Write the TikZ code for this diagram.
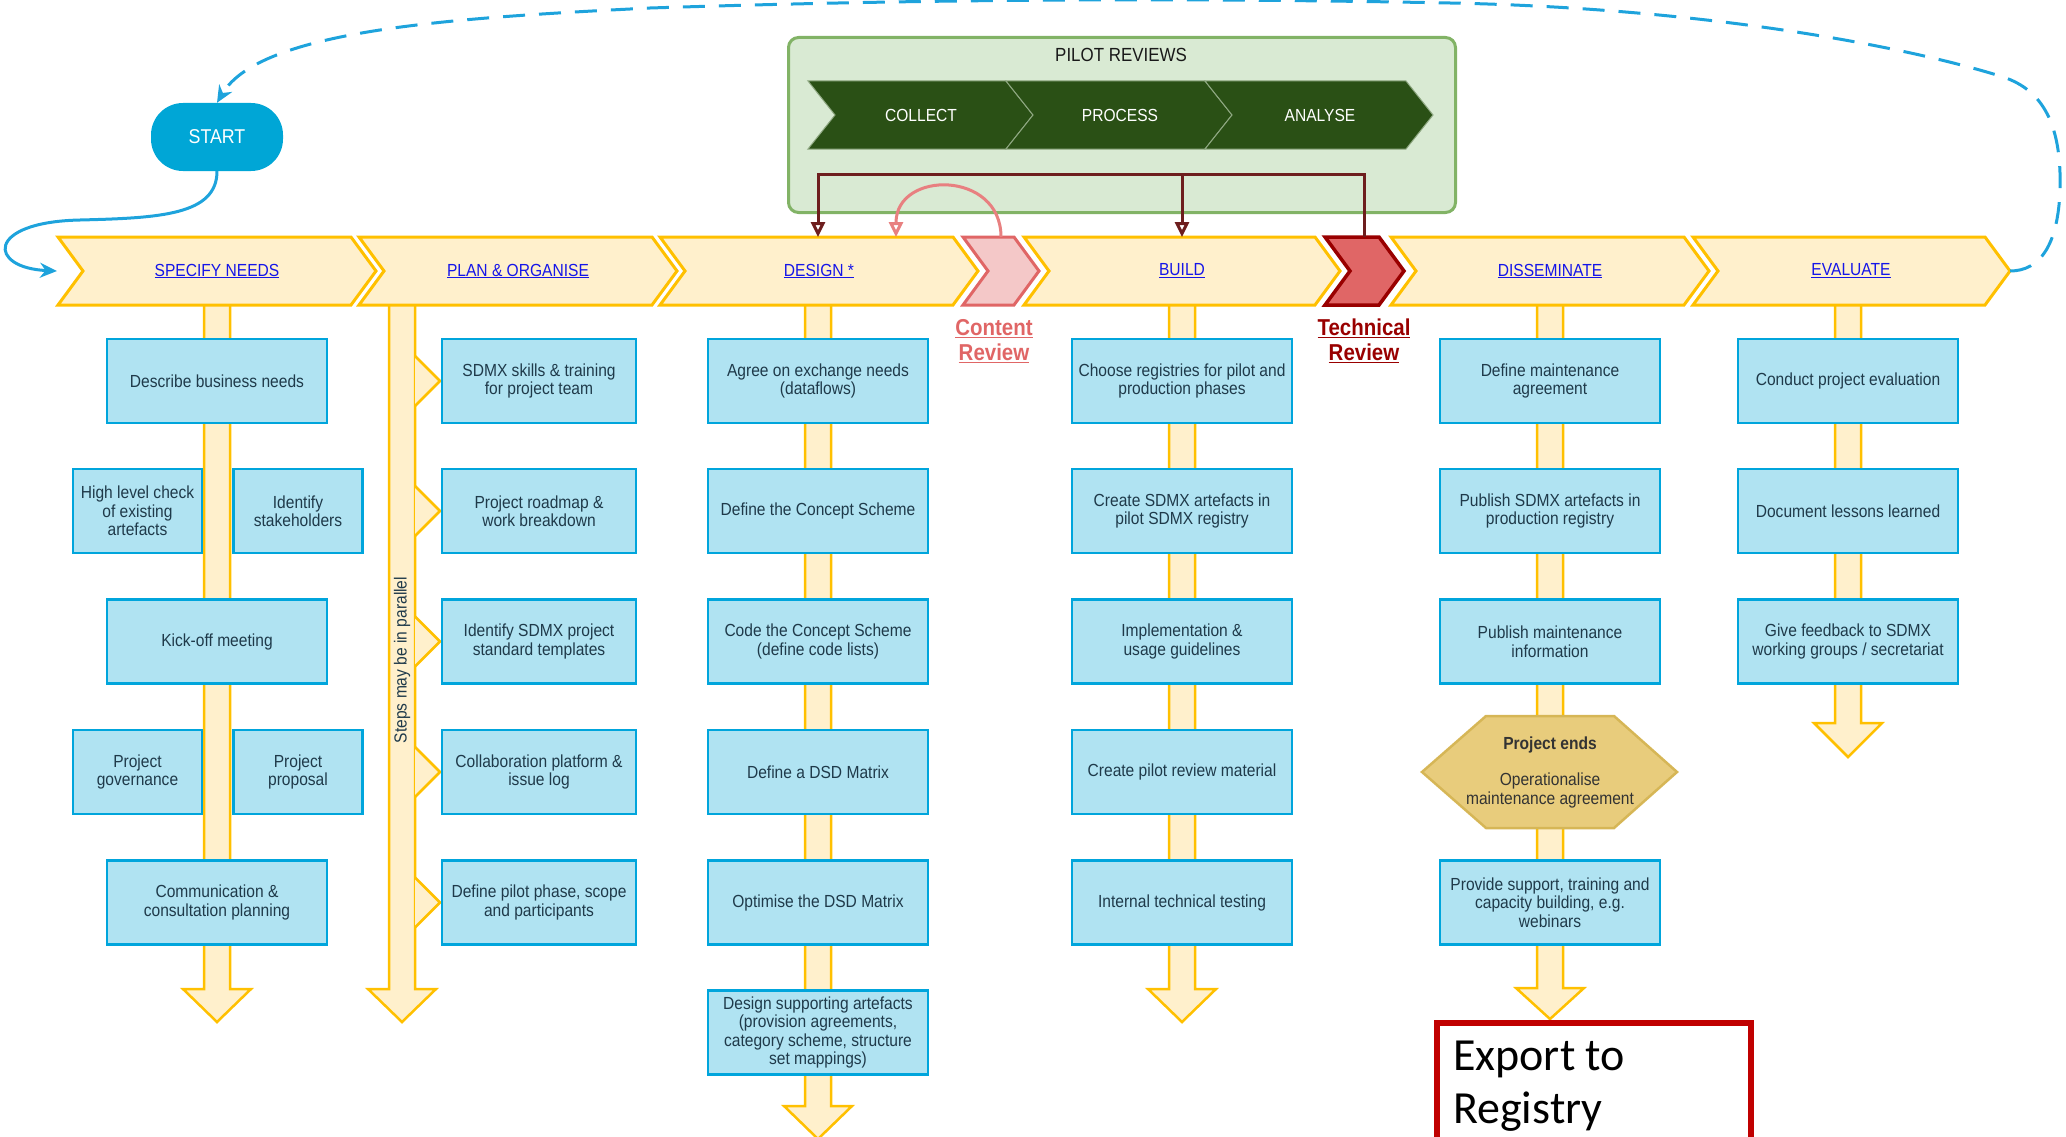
\documentclass[tikz,border=0pt]{standalone}
\usepackage{fontspec}
\setmainfont{Liberation Sans}[FakeStretch=0.89]
\newfontfamily\calfont{Carlito}
\usetikzlibrary{arrows.meta}
\definecolor{chevfill}{HTML}{FFF0CC}
\definecolor{chevline}{HTML}{FFC000}
\definecolor{boxfill}{HTML}{B0E3F2}
\definecolor{boxline}{HTML}{00A5DC}
\definecolor{boxtext}{HTML}{1F3A4A}
\definecolor{startblue}{HTML}{00A6D6}
\definecolor{linkblue}{HTML}{1515E8}
\definecolor{pilotfill}{HTML}{D9EAD3}
\definecolor{pilotline}{HTML}{82B366}
\definecolor{darkgreen}{HTML}{2A5015}
\definecolor{greenedge}{HTML}{8FA882}
\definecolor{darkmaroon}{HTML}{6E1E1E}
\definecolor{pinkfill}{HTML}{F4C8C8}
\definecolor{pinkline}{HTML}{E06666}
\definecolor{pinkarc}{HTML}{E88080}
\definecolor{redfill}{HTML}{E06666}
\definecolor{redline}{HTML}{990000}
\definecolor{hexfill}{HTML}{E8CC7C}
\definecolor{hexline}{HTML}{D6B656}
\definecolor{exportred}{HTML}{C00000}
\definecolor{dashblue}{HTML}{1EA3DC}
\newcommand\bxf{\fontsize{17.5}{18.5}\selectfont}
\newcommand\chv[6]{\path[#1] (#2,#4) -- (#3,#4) -- ({#3+#6},{#4+#5/2}) -- (#3,{#4+#5}) -- (#2,{#4+#5}) -- ({#2+#6},{#4+#5/2}) -- cycle;}
\newcommand\colarrow[3]{\path[colbar] ({#1-13},300) -- ({#1-13},#2) -- ({#1-34},#2) -- (#1,#3) -- ({#1+34},#2) -- ({#1+13},#2) -- ({#1+13},300) -- cycle;}
\newcommand\potri[1]{\path[colbar] (415,{#1-25}) -- (440,#1) -- (415,{#1+25});}
\begin{document}
\begin{tikzpicture}[x=1pt, y=-1pt, line join=miter,
  phase/.style={fill=chevfill, draw=chevline, line width=3pt},
  pinkchev/.style={fill=pinkfill, draw=pinkline, line width=3pt},
  redchev/.style={fill=redfill, draw=redline, line width=3.5pt},
  greenchev/.style={fill=darkgreen, draw=greenedge, line width=1pt},
  colbar/.style={fill=chevfill, draw=chevline, line width=2.5pt},
  box/.style={draw=boxline, fill=boxfill, line width=2.5pt, minimum width=220pt, minimum height=84pt, align=center, inner sep=0pt, font=\bxf, text=boxtext},
  pobox/.style={box, minimum width=194pt},
  smallbox/.style={box, minimum width=129pt},
  phasetxt/.style={font=\fontsize{17.5}{20}\selectfont, text=linkblue},
  greentxt/.style={font=\fontsize{17.5}{20}\selectfont, text=white},
  reviewtxt/.style={font=\bfseries\fontsize{23}{25}\selectfont, align=center},
  hexst/.style={fill=hexfill, draw=hexline, line width=2.5pt},
  mline/.style={draw=darkmaroon, line width=3pt},
  mtip/.style={-{Triangle[open, length=15pt, width=14pt]}},
  dashst/.style={draw=dashblue, line width=3pt, dash pattern=on 22pt off 14pt, -{Stealth[length=17pt, width=15pt]}},
  solidblue/.style={draw=dashblue, line width=3pt, -{Stealth[length=17pt, width=15pt]}}
]
\useasboundingbox (0,0) rectangle (2066,1137);
\clip (0,0) rectangle (2066,1137);

% pilot reviews panel
\node[draw=pilotline, fill=pilotfill, line width=3pt, rounded corners=10pt, minimum width=667pt, minimum height=175pt, anchor=north west, inner sep=0pt] (pilot) at (787,36) {};
\node[font=\fontsize{19}{21}\selectfont, text=black!90] (pilottitle) at (1121,55) {PILOT REVIEWS};
\chv{greenchev}{808}{1006}{81}{68}{27}
\chv{greenchev}{1006}{1205}{81}{68}{27}
\chv{greenchev}{1205}{1406}{81}{68}{27}
\node[greentxt] (collect) at (921,115) {COLLECT};
\node[greentxt] (process) at (1120,115) {PROCESS};
\node[greentxt] (analyse) at (1320,115) {ANALYSE};

% column bars
\colarrow{217}{989}{1022}
\colarrow{402}{989}{1022}
\colarrow{818}{1106}{1139}
\colarrow{1182}{989}{1022}
\colarrow{1550}{988}{1019}
\colarrow{1848}{723}{757}
\potri{381}
\potri{511}
\potri{641.5}
\potri{772}
\potri{902.5}
\node[rotate=90, font=\bxf, text=boxtext] (parallel) at (402,660) {Steps may be in parallel};

% phase chevrons
\chv{phase}{58}{351}{237}{68}{25}
\chv{phase}{359}{652}{237}{68}{25}
\chv{phase}{660}{953}{237}{68}{25}
\chv{pinkchev}{963}{1014}{237}{68}{25}
\chv{phase}{1024}{1315}{237}{68}{25}
\chv{redchev}{1325}{1379}{237}{68}{25}
\chv{phase}{1391}{1684}{237}{68}{25}
\chv{phase}{1693}{1985}{237}{68}{25}
\node[phasetxt] (specify) at (217,271) {\underline{SPECIFY NEEDS}};
\node[phasetxt] (plan) at (518,271) {\underline{PLAN \& ORGANISE}};
\node[phasetxt] (design) at (819,271) {\underline{DESIGN *}};
\node[phasetxt] (build) at (1182,271) {\underline{BUILD}};
\node[phasetxt] (disseminate) at (1550,271) {\underline{DISSEMINATE}};
\node[phasetxt] (evaluate) at (1851,271) {\underline{EVALUATE}};
\node[reviewtxt, text=pinkline] (contentrev) at (994,341) {\underline{Content}\\\underline{Review}};
\node[reviewtxt, text=redline] (technicalrev) at (1364,341) {\underline{Technical}\\\underline{Review}};

% START
\node[fill=startblue, rounded corners=32pt, minimum width=132pt, minimum height=68pt, inner sep=0pt, text=white, font=\fontsize{20}{22}\selectfont] (start) at (217,137) {START};

% specify needs
\node[box] (sn1) at (217,381) {Describe business needs};
\node[smallbox] (sn2a) at (137.5,511) {High level check\\of existing\\artefacts};
\node[smallbox] (sn2b) at (298,511) {Identify\\stakeholders};
\node[box] (sn3) at (217,641.5) {Kick-off meeting};
\node[smallbox] (sn4a) at (137.5,772) {Project\\governance};
\node[smallbox] (sn4b) at (298,772) {Project\\proposal};
\node[box] (sn5) at (217,902.5) {Communication \&\\consultation planning};

% plan & organise
\node[pobox] (po1) at (539,381) {SDMX skills \& training\\for project team};
\node[pobox] (po2) at (539,511) {Project roadmap \&\\work breakdown};
\node[pobox] (po3) at (539,641.5) {Identify SDMX project\\standard templates};
\node[pobox] (po4) at (539,772) {Collaboration platform \&\\issue log};
\node[pobox] (po5) at (539,902.5) {Define pilot phase, scope\\and participants};

% design
\node[box] (de1) at (818,381) {Agree on exchange needs\\(dataflows)};
\node[box] (de2) at (818,511) {Define the Concept Scheme};
\node[box] (de3) at (818,641.5) {Code the Concept Scheme\\(define code lists)};
\node[box] (de4) at (818,772) {Define a DSD Matrix};
\node[box] (de5) at (818,902.5) {Optimise the DSD Matrix};
\node[box] (de6) at (818,1032.5) {Design supporting artefacts\\(provision agreements,\\category scheme, structure\\set mappings)};

% build
\node[box] (bu1) at (1182,381) {Choose registries for pilot and\\production phases};
\node[box] (bu2) at (1182,511) {Create SDMX artefacts in\\pilot SDMX registry};
\node[box] (bu3) at (1182,641.5) {Implementation \&\\usage guidelines};
\node[box] (bu4) at (1182,772) {Create pilot review material};
\node[box] (bu5) at (1182,902.5) {Internal technical testing};

% disseminate
\node[box] (di1) at (1550,381) {Define maintenance\\agreement};
\node[box] (di2) at (1550,511) {Publish SDMX artefacts in\\production registry};
\node[box] (di3) at (1550,641.5) {Publish maintenance\\information};
\path[hexst] (1422,772) -- (1486,716) -- (1614,716) -- (1677,772) -- (1614,828) -- (1486,828) -- cycle;
\node[align=center, font=\bxf, text=black!80, inner sep=0pt] (hex) at (1550,772) {\textbf{Project ends}\\[18pt]Operationalise\\maintenance agreement};
\node[box] (di5) at (1550,902.5) {Provide support, training and\\capacity building, e.g.\\webinars};

% evaluate
\node[box] (ev1) at (1848,381) {Conduct project evaluation};
\node[box] (ev2) at (1848,511) {Document lessons learned};
\node[box] (ev3) at (1848,641.5) {Give feedback to SDMX\\working groups / secretariat};

% connectors
\coordinate (trtop) at (1364,237);
\coordinate (detop) at (818,237);
\coordinate (butop) at (1182,237);
\coordinate (crtop) at (1001,237);
\coordinate (detop2) at (896,237);
\coordinate (evtip) at (2010,271);
\coordinate (snin) at (57,271);
\draw[mline, mtip] (trtop) -- ++(0,-63) -| (detop);
\draw[mline, mtip] (butop |- pilot.south) ++(0,-38) -- (butop);
\draw[draw=pinkarc, line width=3pt, mtip] (crtop) .. controls (1001,170) and (896,170) .. (detop2);
\draw[dashst] (evtip) .. controls (2040,271) and (2058,245) .. (2060,190)
  .. controls (2062,120) and (2040,88) .. (2000,76)
  .. controls (1900,45) and (1700,8) .. (1450,3)
  .. controls (1150,-3) and (900,0) .. (650,8)
  .. controls (450,18) and (260,30) .. (start.north);
\draw[solidblue] (start.south) .. controls (217,215) and (160,218) .. (80,220)
  .. controls (-15,222) and (-12,268) .. (snin);

% export box
\node[draw=exportred, fill=white, line width=6pt, minimum width=314pt, minimum height=170pt, anchor=north west, inner sep=0pt] (export) at (1434,1020) {};
\node[anchor=base west, font=\calfont\fontsize{46}{50}\selectfont, inner sep=0pt] (export1) at (1453,1070) {Export to};
\node[anchor=base west, font=\calfont\fontsize{46}{50}\selectfont, inner sep=0pt] (export2) at (1453,1123) {Registry};
\end{tikzpicture}
\end{document}
